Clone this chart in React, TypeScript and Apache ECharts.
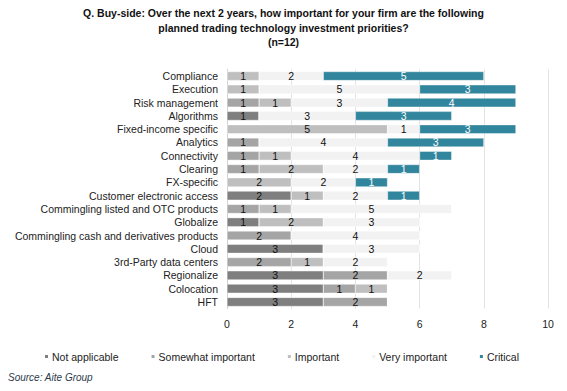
import React, { useEffect, useRef } from "react";
import * as echarts from "echarts";

const categories = [
  "Compliance",
  "Execution",
  "Risk management",
  "Algorithms",
  "Fixed-income specific",
  "Analytics",
  "Connectivity",
  "Clearing",
  "FX-specific",
  "Customer electronic access",
  "Commingling listed and OTC products",
  "Globalize",
  "Commingling cash and derivatives products",
  "Cloud",
  "3rd-Party data centers",
  "Regionalize",
  "Colocation",
  "HFT",
];

const notApplicable = [0, 0, 0, 1, 0, 0, 0, 0, 0, 2, 0, 1, 0, 3, 0, 3, 3, 3];
const somewhatImportant = [0, 0, 1, 0, 0, 1, 1, 1, 0, 0, 1, 0, 2, 0, 2, 2, 1, 2];
const important = [1, 1, 1, 0, 5, 0, 1, 2, 2, 1, 1, 2, 0, 0, 1, 0, 1, 0];
const veryImportant = [2, 5, 3, 3, 1, 4, 4, 2, 2, 2, 5, 3, 4, 3, 2, 2, 0, 0];
const critical = [5, 3, 4, 3, 3, 3, 1, 1, 1, 1, 0, 0, 0, 0, 0, 0, 0, 0];

const xTicks = [0, 2, 4, 6, 8, 10];

const seriesDefs = [
  { name: "Not applicable", data: notApplicable, color: "#7f7f7f", text: "#111" },
  { name: "Somewhat important", data: somewhatImportant, color: "#a5a5a5", text: "#111" },
  { name: "Important", data: important, color: "#bfbfbf", text: "#111" },
  { name: "Very important", data: veryImportant, color: "#f2f2f2", text: "#111" },
  { name: "Critical", data: critical, color: "#31859c", text: "#ffffff" },
];

const FONT = "'Liberation Sans', Arial, sans-serif";

export default function App() {
  const ref = useRef<HTMLDivElement>(null);
  useEffect(() => {
    if (!ref.current) return;
    const chart = echarts.init(ref.current, null, { renderer: "svg" });
    chart.setOption({
      animation: false,
      backgroundColor: "#ffffff",
      textStyle: { fontFamily: FONT },
      title: {
        text: "Q. Buy-side: Over the next 2 years, how important for your firm are the following\nplanned trading technology investment priorities?\n(n=12)",
        left: "center",
        top: 6,
        padding: 0,
        textStyle: {
          fontFamily: FONT,
          fontSize: 10.5,
          fontWeight: "bold",
          color: "#111",
          lineHeight: 14.5,
          align: "center",
        },
      },
      legend: {
        left: 43,
        top: 351,
        padding: 0,
        itemWidth: 5,
        itemHeight: 5,
        itemGap: 31,
        icon: "rect",
        textStyle: { fontFamily: FONT, fontSize: 10.5, color: "#222", padding: [0, 0, 0, -2] },
        data: seriesDefs.map((s) => s.name),
      },
      grid: { left: 227, right: 19, top: 69.4, bottom: 82.4, containLabel: false },
      xAxis: {
        type: "value",
        min: xTicks[0],
        max: xTicks[xTicks.length - 1],
        interval: 2,
        axisLine: { show: false },
        axisTick: { show: false },
        axisLabel: { fontFamily: FONT, fontSize: 10.5, color: "#222", margin: 10 },
        splitLine: { show: true, lineStyle: { color: "#e3e3e3", width: 1 } },
      },
      yAxis: {
        type: "category",
        data: categories,
        inverse: true,
        axisTick: { show: false },
        axisLine: { show: true, lineStyle: { color: "#d0d0d0", width: 1 } },
        axisLabel: { interval: 0, fontFamily: FONT, fontSize: 10.5, color: "#222", margin: 9 },
      },
      graphic: [
        {
          type: "text",
          left: 8,
          top: 372,
          style: {
            text: "Source: Aite Group",
            fontFamily: FONT,
            fontSize: 10,
            fontStyle: "italic",
            fill: "#2b3a4a",
          },
        },
      ],
      series: seriesDefs.map((s) => ({
        name: s.name,
        type: "bar",
        stack: "total",
        data: s.data,
        barWidth: 9,
        itemStyle: { color: s.color, borderColor: "#ffffff", borderWidth: 0.4 },
        label: {
          show: true,
          position: "inside",
          fontFamily: FONT,
          fontSize: 10.5,
          color: s.text,
          formatter: (p: any) => (p.value === 0 ? "" : String(p.value)),
        },
      })),
    });
    return () => chart.dispose();
  }, []);
  return <div ref={ref} style={{ width: 567, height: 391, position: "absolute", left: 0, top: 0 }} />;
}
